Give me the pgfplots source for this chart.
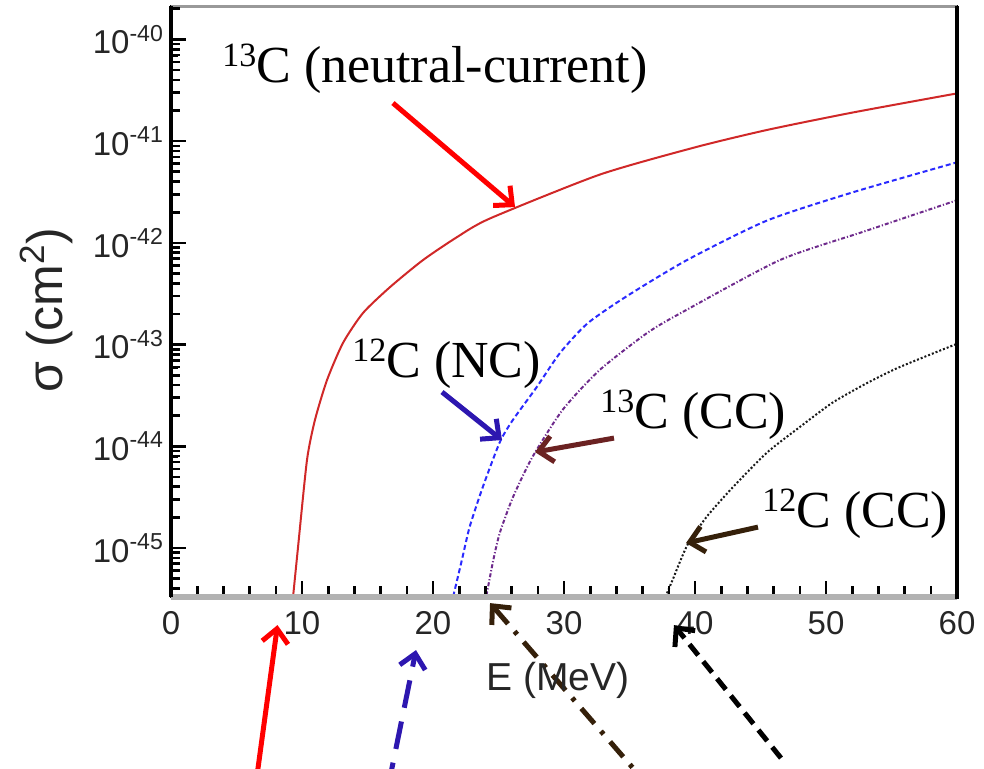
\documentclass[border=0pt]{standalone}
\usepackage{fontspec}
\setmainfont{Liberation Serif}
\newfontfamily\sansf{Liberation Sans}
\usepackage{pgfplots}
\pgfplotsset{compat=1.18}
\usetikzlibrary{arrows.meta}
\definecolor{cred}{HTML}{D02828}
\definecolor{cblue}{HTML}{2A2AFF}
\definecolor{cpurple}{HTML}{6E2A8C}
\definecolor{cblack}{HTML}{1A1A1A}
\definecolor{ared}{HTML}{FF0000}
\definecolor{ablue}{HTML}{2D17B0}
\definecolor{amaroon}{HTML}{6B2222}
\definecolor{abrown}{HTML}{35200A}
\newcommand{\iso}[2]{\raisebox{8pt}{\fontsize{17pt}{17pt}\selectfont #1}#2}
\tikzset{annarrow/.style={solid, line width=2.5pt, -{Straight Barb[length=7pt,width=13pt]}},
  tk/.style={solid, black, line width=1.3pt}}

\begin{document}
\begin{tikzpicture}
\path[use as bounding box] (-85.5pt,-85.5pt) rectangle (406.5pt,298.5pt);
\begin{axis}[
  at={(0pt,0pt)}, anchor=south west,
  scale only axis, width=393pt, height=295.5pt,
  xmin=0, xmax=60,
  ymode=log, ymin=3.3e-46, ymax=2.13e-40,
  axis line style={solid, black, line width=1pt},
  clip mode=individual,
  xtick={0,10,20,30,40,50,60},
  xticklabels={0,10,20,30,40,50,60},
  minor x tick num=4,
  ytick={1e-45,1e-44,1e-43,1e-42,1e-41,1e-40},
  yticklabels={10\textsuperscript{-45},10\textsuperscript{-44},10\textsuperscript{-43},10\textsuperscript{-42},10\textsuperscript{-41},10\textsuperscript{-40}},
  xtick pos=left, ytick pos=left, tick align=inside,
  major tick length=7pt, minor tick length=3.5pt,
  xtick style={solid, black, line width=1.3pt},
  ytick style={solid, black, line width=1.3pt},
  tick label style={font=\sansf\fontsize{16.5pt}{16.5pt}\selectfont, text=black!85},
  xticklabel style={yshift=-3.5pt},
  xlabel={E (MeV)},
  ylabel={σ (cm\textsuperscript{2})},
  xlabel style={at={(axis description cs:0.4924,-0.1404)}, anchor=center,
    font=\sansf\fontsize{19.5pt}{19.5pt}\selectfont, text=black!85},
  ylabel style={at={(axis description cs:-0.159,0.4856)}, anchor=center,
    font=\sansf\fontsize{25pt}{25pt}\selectfont, text=black!85},
]
% 13C neutral current
\addplot[cred, line width=1pt, smooth, tension=0.4] coordinates {
 (9.26,2.8e-46) (9.69,1.0e-45) (10.38,7.33e-45) (10.99,1.82e-44) (11.91,4.49e-44)
 (13.13,1.04e-43) (14.66,2.05e-43) (16.72,3.68e-43) (19.24,6.79e-43) (21.83,1.14e-42)
 (24.35,1.74e-42) (32.7,4.68e-42) (40,8.7e-42) (45.5,1.29e-41) (52,1.91e-41) (60,2.95e-41)};
% 12C NC
\addplot[cblue, line width=1pt, dash pattern=on 2.5pt off 1.5pt, smooth, tension=0.4] coordinates {
 (21.4,2.8e-46) (22.2,7.6e-46) (22.8,1.62e-45) (23.8,3.98e-45) (25.1,1.10e-44)
 (26.1,1.82e-44) (27.9,3.8e-44) (29.7,8.3e-44) (31.8,1.62e-43) (34.8,3.0e-43)
 (39.4,6.8e-43) (45.5,1.66e-42) (52.1,3.16e-42) (60,6.2e-42)};
% 13C CC
\addplot[cpurple, line width=1pt, dash pattern=on 2pt off 1pt on 0.6pt off 1pt, smooth, tension=0.4] coordinates {
 (23.95,2.8e-46) (24.6,7.6e-46) (25.1,1.41e-45) (26.1,3.16e-45) (27.6,7.9e-45)
 (29.9,2.29e-44) (32.7,5.6e-44) (36.3,1.29e-43) (38.9,2.04e-43) (46.5,6.8e-43)
 (53.1,1.32e-42) (60,2.63e-42)};
% 12C CC
\addplot[cblack, line width=1pt, dash pattern=on 1pt off 1pt, smooth, tension=0.4] coordinates {
 (37.5,2.8e-46) (38.3,4.9e-46) (38.9,7.6e-46) (39.5,1.12e-45) (40.9,2.04e-45)
 (42.9,3.98e-45) (45.5,8.7e-45) (48.0,1.55e-44) (50.5,2.69e-44) (53.1,4.17e-44)
 (55.6,6.0e-44) (60,1.02e-43)};

% frame
\draw[solid, gray!60, line width=3.2pt] (rel axis cs:0,0) -- (rel axis cs:1,0);
\draw[solid, gray!80, line width=1.5pt] (rel axis cs:0,1) -- (rel axis cs:1,1);
\draw[solid, black, line width=1.75pt] (rel axis cs:0,0) -- (rel axis cs:0,1);
\draw[solid, black, line width=2pt] (rel axis cs:1,-0.003) -- (rel axis cs:1,1);

% labels
\node[anchor=base west, inner sep=0pt, font=\fontsize{26pt}{26pt}\selectfont] at (rel axis cs:0.0649,0.8714) {\iso{13}{C (neutral-current)}};
\node[anchor=base west, inner sep=0pt, font=\fontsize{26pt}{26pt}\selectfont] at (rel axis cs:0.2303,0.3723) {\iso{12}{C (NC)}};
\node[anchor=base west, inner sep=0pt, font=\fontsize{26pt}{26pt}\selectfont] at (rel axis cs:0.5458,0.2860) {\iso{13}{C (CC)}};
\node[anchor=base west, inner sep=0pt, font=\fontsize{26pt}{26pt}\selectfont] at (rel axis cs:0.7519,0.1184) {\iso{12}{C (CC)}};

% arrows inside
\draw[annarrow, ared] (rel axis cs:0.2824,0.8359) -- (rel axis cs:0.4377,0.6599);
\draw[annarrow, ablue] (rel axis cs:0.3448,0.3469) -- (rel axis cs:0.4211,0.2657);
\draw[annarrow, amaroon] (rel axis cs:0.5636,0.2690) -- (rel axis cs:0.4631,0.2453);
\draw[annarrow, abrown] (rel axis cs:0.7468,0.1184) -- (rel axis cs:0.6552,0.0914);

% arrows below
\draw[annarrow, ared] (rel axis cs:0.1069,-0.3266) -- (rel axis cs:0.1355,-0.0474);
\draw[annarrow, ablue, dash pattern=on 14pt off 7pt] (rel axis cs:0.2754,-0.3266) -- (rel axis cs:0.3117,-0.0897);
\draw[annarrow, abrown, dash pattern=on 10pt off 5pt on 2pt off 5pt] (rel axis cs:0.6120,-0.3266) -- (rel axis cs:0.4059,-0.0102);
\draw[annarrow, black, dash pattern=on 7pt off 4pt] (rel axis cs:0.7761,-0.2724) -- (rel axis cs:0.6399,-0.0474);
\end{axis}
% tick marks drawn over the frame (axis box is 393pt x 295.5pt, 50.862pt per decade)
\foreach \xx in {0,65.5,131,196.5,262,327.5,393} {\draw[tk] (\xx pt,1.6pt) -- (\xx pt,8pt);}
\foreach \xx in {13.1,26.2,39.3,52.4,78.6,91.7,104.8,117.9,144.1,157.2,170.3,183.4,209.6,222.7,235.8,248.9,275.1,288.2,301.3,314.4,340.6,353.7,366.8,379.9} {\draw[tk] (\xx pt,1.6pt) -- (\xx pt,5.5pt);}
\foreach \yy in {24.49,75.35,126.21,177.07,227.94,278.80} {\draw[tk] (0.8pt,\yy pt) -- (7.5pt,\yy pt);}
\foreach \yy in {4.25,9.18,13.21,16.61,19.56,22.16, 294.11} {\draw[tk] (0.8pt,\yy pt) -- (4.3pt,\yy pt);}
\foreach \bb in {24.49,75.35,126.21,177.07,227.94} {
  \foreach \oo in {15.31,24.27,30.62,35.55,39.58,42.98,45.93,48.53} {
    \draw[tk] (0.8pt,{(\bb+\oo)*1pt}) -- (4.3pt,{(\bb+\oo)*1pt});}}
\end{tikzpicture}
\end{document}
